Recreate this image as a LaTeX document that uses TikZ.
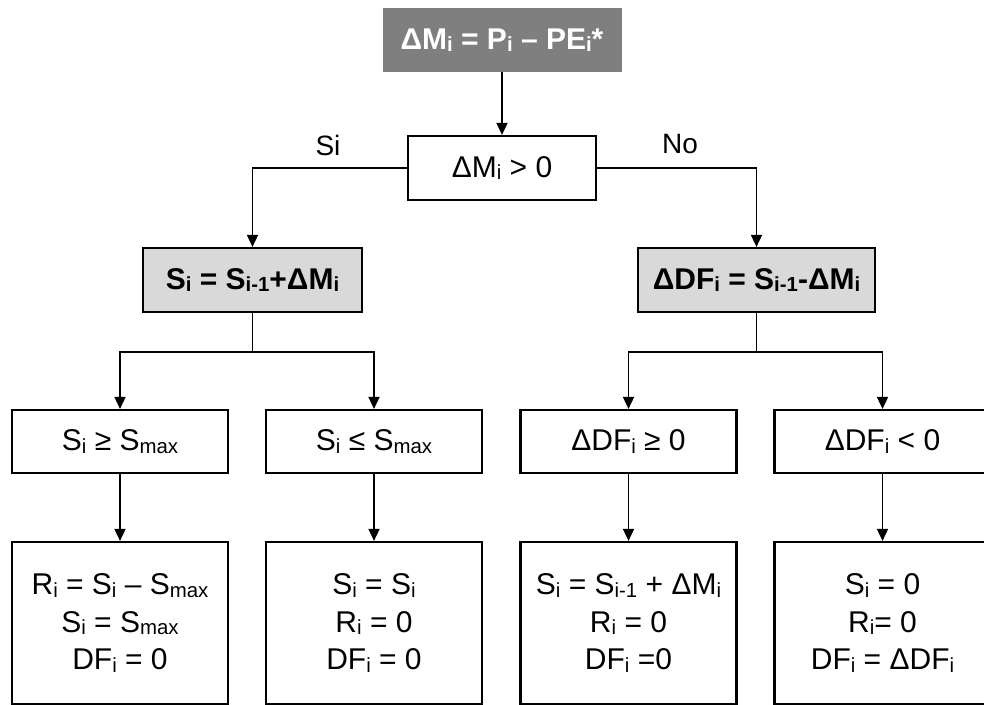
\documentclass[tikz,border=0pt]{standalone}
\usepackage{fontspec}
\setmainfont{Liberation Sans}
\usepackage{graphicx}
\usetikzlibrary{arrows.meta}
\newcommand{\sbs}[1]{\raisebox{-0.08em}{\scalebox{0.68}{#1}}}
\definecolor{topgray}{HTML}{7F7F7F}
\definecolor{midgray}{HTML}{D9D9D9}
\begin{document}
\begin{tikzpicture}[x=1pt,y=-1pt,
  box/.style={draw=black, line width=2.2pt, inner sep=0pt, align=center,
    font=\fontsize{30}{36}\selectfont},
  topbox/.style={fill=topgray, draw=none, inner sep=0pt, text=white,
    minimum width=239pt, minimum height=64pt, font=\fontsize{30}{36}\selectfont\bfseries},
  graybox/.style={box, fill=midgray, minimum width=219pt, minimum height=64pt,
    font=\fontsize{30}{36}\selectfont\bfseries},
  condbox/.style={box, minimum width=216pt, minimum height=63pt},
  resbox/.style={box, minimum width=216pt, minimum height=162pt,
    font=\fontsize{30}{37.5}\selectfont},
  lbl/.style={inner sep=0pt, font=\fontsize{28}{34}\selectfont},
  line/.style={draw=black, line width=1.7pt},
  conn/.style={line, -{Triangle[width=11pt,length=12pt]}}
]
\useasboundingbox (0,0) rectangle (984,704);
\clip (0,0) rectangle (984,704);
\fill[white] (0,0) rectangle (984,704);

\node[topbox] (top) at (502,40) {ΔM\sbs{i} = P\sbs{i} – PE\sbs{i}*};
\node[box, minimum width=188pt, minimum height=64pt] (dec) at (502,168) {ΔM\sbs{i} > 0};
\node[lbl] (si) at (328,145) {Si};
\node[lbl] (no) at (680,144) {No};

\node[graybox] (gl) at (252.5,280) {S\sbs{i} = S\sbs{i-1}+ΔM\sbs{i}};
\node[graybox, minimum width=237pt] (gr) at (756.5,280) {ΔDF\sbs{i} = S\sbs{i-1}-ΔM\sbs{i}};

\node[condbox] (c1) at (120,441.5) {S\sbs{i} ≥ S\sbs{max}};
\node[condbox] (c2) at (374,441.5) {S\sbs{i} ≤ S\sbs{max}};
\node[condbox] (c3) at (628.5,441.5) {ΔDF\sbs{i} ≥ 0};
\node[condbox] (c4) at (882.5,441.5) {ΔDF\sbs{i} < 0};

\node[resbox] (b1) at (120,623) {R\sbs{i} = S\sbs{i} – S\sbs{max}\\ S\sbs{i} = S\sbs{max}\\ DF\sbs{i} = 0};
\node[resbox] (b2) at (374,623) {S\sbs{i} = S\sbs{i}\\ R\sbs{i} = 0\\ DF\sbs{i} = 0};
\node[resbox] (b3) at (628.5,623) {S\sbs{i} = S\sbs{i-1} + ΔM\sbs{i}\\ R\sbs{i} = 0\\ DF\sbs{i} =0};
\node[resbox] (b4) at (882.5,623) {S\sbs{i} = 0\\ R\sbs{i}= 0\\ DF\sbs{i} = ΔDF\sbs{i}};

\coordinate (jl) at (252.5,352);
\coordinate (jr) at (756.5,352);

\draw[conn] (top) -- (dec);
\draw[conn] (dec.west) -| (gl.north);
\draw[conn] (dec.east) -| (gr.north);
\draw[line] (gl.south) -- (jl);
\draw[line] (gr.south) -- (jr);
\draw[conn] (jl) -| (c1.north);
\draw[conn] (jl) -| (c2.north);
\draw[conn] (jr) -| (c3.north);
\draw[conn] (jr) -| (c4.north);
\draw[conn] (c1) -- (b1);
\draw[conn] (c2) -- (b2);
\draw[conn] (c3) -- (b3);
\draw[conn] (c4) -- (b4);
\end{tikzpicture}
\end{document}
